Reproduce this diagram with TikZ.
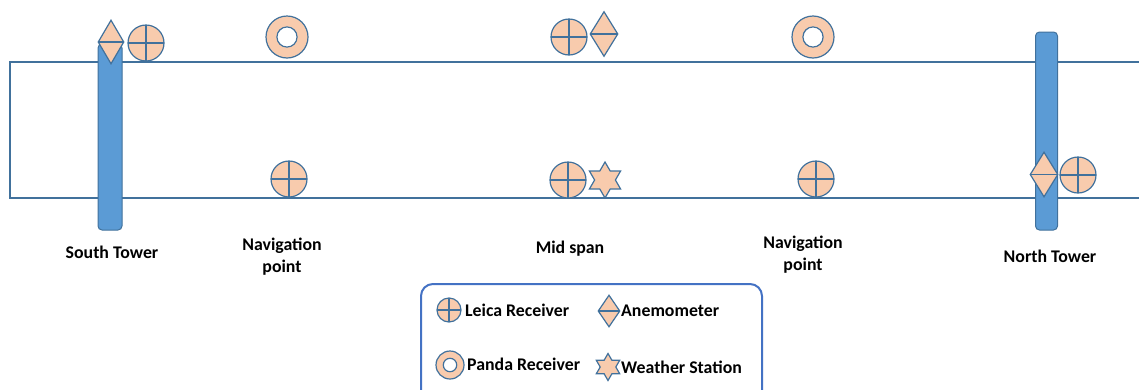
\documentclass[tikz,border=0pt]{standalone}
\usepackage{fontspec}
\setmainfont{Carlito}
\usetikzlibrary{shapes.geometric}
\definecolor{peach}{HTML}{F8CBAD}
\definecolor{iconline}{HTML}{41719C}
\definecolor{deckline}{HTML}{41719C}
\definecolor{towerfill}{HTML}{5B9BD5}
\definecolor{legendline}{HTML}{4472C4}
\tikzset{
  deck/.style={draw=deckline, line width=2.2pt},
  tower/.style={rectangle, rounded corners=4pt, draw=deckline, fill=towerfill, line width=1pt, inner sep=0pt},
  leica/.style={circle, draw=iconline, fill=peach, line width=1.2pt, inner sep=0pt, minimum size=#1,
    path picture={\draw[iconline, line width=1.2pt] (path picture bounding box.north) -- (path picture bounding box.south)
      (path picture bounding box.west) -- (path picture bounding box.east);}},
  leica/.default=36pt,
  panda/.style={circle, draw=iconline, fill=peach, line width=1.2pt, inner sep=0pt, minimum size=#1,
    path picture={\draw[iconline, fill=white, line width=1.2pt] (path picture bounding box.center) circle ({#1*0.24});}},
  panda/.default=42pt,
  anemo/.style 2 args={diamond, draw=iconline, fill=peach, line width=1.2pt, inner sep=0pt, minimum width=#1, minimum height=#2,
    path picture={\draw[iconline, line width=1.2pt] (path picture bounding box.west) -- (path picture bounding box.east);}},
  wstar/.style={star, star points=6, star point ratio=1.73, draw=iconline, fill=peach, line width=1.2pt, inner sep=0pt, minimum size=#1},
  wstar/.default=36pt,
  lbl/.style={font=\fontsize{17.8}{22}\selectfont\bfseries, align=center, inner sep=0pt},
  legendbox/.style={draw=legendline, line width=2pt, rounded corners=12pt}
}
\begin{document}
\begin{tikzpicture}[x=1pt,y=-1pt]
\useasboundingbox (0,0) rectangle (1139,389);
\clip (0,0) rectangle (1139,389);

% deck outline
\coordinate (deckTR) at (1150,62);
\coordinate (deckTL) at (10,62);
\coordinate (deckBL) at (10,198);
\coordinate (deckBR) at (1150,198);
\draw[deck] (deckTR) -- (deckTL) -- (deckBL) -- (deckBR);

% towers
\node[tower, minimum width=24pt, minimum height=186pt] (southtower) at (110,137) {};
\node[tower, minimum width=22pt, minimum height=198pt] (northtower) at (1046.5,131) {};

% south tower instruments
\node[anemo={26pt}{44pt}] (sanemo) at (111,42) {};
\node[leica] (sleica) at (146,43) {};

% navigation point (south)
\node[panda] (npspanda) at (287,37) {};
\node[leica] (npsleica) at (289,179) {};

% mid span
\node[leica] (mtopleica) at (569,37) {};
\node[anemo={28pt}{45pt}] (manemo) at (604,34) {};
\node[leica] (mbotleica) at (568,180) {};
\node[wstar] (mstar) at (605,180) {};

% navigation point (north)
\node[panda] (npnpanda) at (813,37) {};
\node[leica] (npnleica) at (816,179) {};

% north tower instruments
\node[anemo={28pt}{45pt}] (nanemo) at (1044,174.5) {};
\node[leica] (nleica) at (1078,175) {};

% labels
\node[lbl] (lsouth) at (112,252) {South Tower};
\node[lbl] (lnavs) at (282,257) {Navigation\\point};
\node[lbl] (lmid) at (570,249) {Mid span};
\node[lbl] (lnavn) at (803,255) {Navigation\\point};
\node[lbl] (lnorth) at (1050,256) {North Tower};

% legend
\coordinate (legTL) at (421,284);
\coordinate (legBR) at (762,420);
\draw[legendbox] (legTL) rectangle (legBR);
\node[leica=24pt] (kleica) at (449,310) {};
\node[lbl, anchor=west] (tleica) at (465,310) {Leica Receiver};
\node[anemo={22pt}{32pt}] (kanemo) at (609,311) {};
\node[lbl, anchor=west] (tanemo) at (621,311) {Anemometer};
\node[panda=28pt] (kpanda) at (450,365) {};
\node[lbl, anchor=west] (tpanda) at (467,364) {Panda Receiver};
\node[wstar=27pt] (kstar) at (608,367) {};
\node[lbl, anchor=west] (tstar) at (621,367) {Weather Station};
\end{tikzpicture}
\end{document}
